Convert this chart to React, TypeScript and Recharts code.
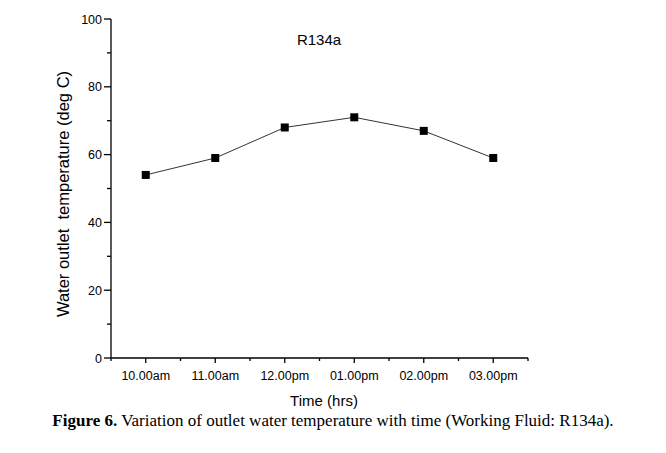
import React from "react";
import { LineChart, Line, XAxis, YAxis, Customized } from "recharts";

// Outlet water temperature readings over the day (working fluid R134a)
const timeLabels = ["10.00am", "11.00am", "12.00pm", "01.00pm", "02.00pm", "03.00pm"];
const outletTemps = [54, 59, 68, 71, 67, 59];

const xTicks = [-0.5, 0, 0.5, 1, 1.5, 2, 2.5, 3, 3.5, 4, 4.5, 5, 5.5];
const yTicks = [0, 10, 20, 30, 40, 50, 60, 70, 80, 90, 100];

const data = outletTemps.map((t, i) => ({ idx: i, temp: t }));

const FONT = "'Liberation Sans', Arial, sans-serif";

const XTick = (props: any) => {
  const { x, y, payload } = props;
  const v = payload.value as number;
  const major = Number.isInteger(v);
  return (
    <g>
      <line x1={x} x2={x} y1={y} y2={y + (major ? 5 : 3)} stroke="#000" strokeWidth={1.3} />
      {major && (
        <text x={x} y={y + 22} textAnchor="middle" fontFamily={FONT} fontSize={12.5} fill="#000">
          {timeLabels[v]}
        </text>
      )}
    </g>
  );
};

const YTick = (props: any) => {
  const { x, y, payload } = props;
  const v = payload.value as number;
  const major = v % 20 === 0;
  return (
    <g>
      <line x1={x} x2={x - (major ? 7 : 4)} y1={y} y2={y} stroke="#000" strokeWidth={1.3} />
      {major && (
        <text x={x - 9} y={y + 4.5} textAnchor="end" fontFamily={FONT} fontSize={12.5} fill="#000">
          {v}
        </text>
      )}
    </g>
  );
};

const SquareDot = (props: any) => {
  const { cx, cy } = props;
  return <rect x={cx - 4} y={cy - 4} width={8} height={8} fill="#000" />;
};

const Annotations = () => (
  <g fontFamily={FONT} fill="#000">
    <text x={319} y={45} textAnchor="middle" fontSize={15}>R134a</text>
    <text x={324} y={406} textAnchor="middle" fontSize={15}>Time (hrs)</text>
    <text
      transform="translate(69,194) rotate(-90)"
      textAnchor="middle"
      fontSize={16.5}
      style={{ whiteSpace: "pre" }}
    >
      {"Water outlet  temperature (deg C)"}
    </text>
  </g>
);

export default function App() {
  return (
    <div style={{ position: "absolute", left: 0, top: 0, width: 666, height: 453, background: "#fff" }}>
      <LineChart
        width={666}
        height={453}
        data={data}
        margin={{ top: 19, right: 138, bottom: 65, left: 51 }}
      >
        <XAxis
          dataKey="idx"
          type="number"
          domain={[-0.5, 5.5]}
          ticks={xTicks}
          interval={0}
          height={30}
          axisLine={{ stroke: "#000", strokeWidth: 1.3 }}
          tickLine={false}
          tickSize={0}
          tickMargin={0}
          tick={<XTick />}
        />
        <YAxis
          type="number"
          domain={[0, 100]}
          ticks={yTicks}
          interval={0}
          width={60}
          axisLine={{ stroke: "#000", strokeWidth: 1.3 }}
          tickLine={false}
          tickSize={0}
          tickMargin={0}
          tick={<YTick />}
        />
        <Line
          dataKey="temp"
          stroke="#333"
          strokeWidth={1}
          dot={<SquareDot />}
          isAnimationActive={false}
        />
        <Customized component={Annotations} />
      </LineChart>
      <div
        style={{
          position: "absolute",
          left: 0,
          top: 411,
          width: 666,
          textAlign: "center",
          fontFamily: "'Liberation Serif', 'Times New Roman', serif",
          fontSize: 17,
          color: "#000",
          whiteSpace: "nowrap",
        }}
      >
        <b>Figure 6.</b> Variation of outlet water temperature with time (Working Fluid: R134a).
      </div>
    </div>
  );
}
